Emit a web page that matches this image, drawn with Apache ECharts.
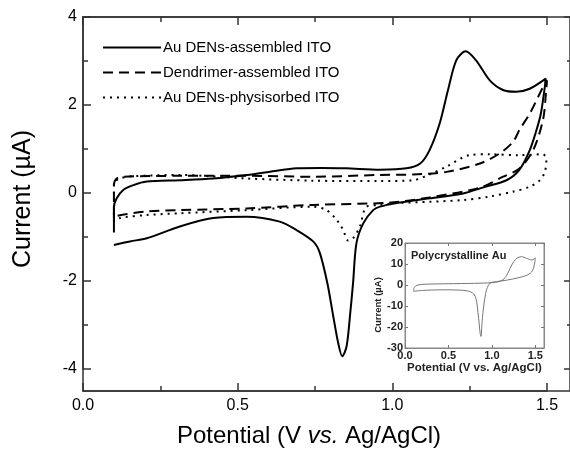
<!DOCTYPE html>
<html>
<head>
<meta charset="utf-8">
<script src="https://cdn.jsdelivr.net/npm/echarts@6/dist/echarts.min.js"></script>
<style>
  html, body { margin: 0; padding: 0; background: #fff; }
  #chart { width: 570px; height: 453px; }
</style>
</head>
<body>
<div id="chart"></div>
<script>
// series names (legend)
var seriesNames = ["Au DENs-assembled ITO", "Dendrimer-assembled ITO", "Au DENs-physisorbed ITO"];

// main CVs, [potential V, current uA]
var auDensAssembled = [
  [0.1, -0.9], [0.1, -0.31], [0.109, -0.12], [0.13, 0.07], [0.163, 0.18], [0.206, 0.26],
  [0.313, 0.29], [0.42, 0.33], [0.53, 0.41], [0.62, 0.5], [0.69, 0.56], [0.77, 0.57],
  [0.85, 0.56], [0.96, 0.53], [1.046, 0.56], [1.09, 0.67], [1.12, 0.97], [1.153, 1.58],
  [1.18, 2.34], [1.207, 3.02], [1.237, 3.22], [1.27, 3.02], [1.315, 2.56], [1.358, 2.34],
  [1.40, 2.3], [1.444, 2.37], [1.496, 2.6], [1.493, 2.41], [1.48, 1.8], [1.466, 1.43],
  [1.444, 0.97], [1.41, 0.52], [1.369, 0.29], [1.30, 0.14], [1.229, -0.01], [1.121, -0.12],
  [1.013, -0.23], [0.96, -0.31], [0.938, -0.39], [0.906, -0.69], [0.884, -1.14], [0.873, -2.05],
  [0.863, -2.8], [0.852, -3.49], [0.838, -3.71], [0.825, -3.41], [0.809, -2.8], [0.79, -2.05],
  [0.765, -1.35], [0.744, -1.1], [0.69, -0.84], [0.636, -0.65], [0.529, -0.54], [0.421, -0.57],
  [0.313, -0.76], [0.206, -1.03], [0.152, -1.1], [0.1, -1.18]
];
var dendrimerAssembled = [
  [0.1, -0.57], [0.1, 0.18], [0.109, 0.33], [0.13, 0.37], [0.313, 0.39], [0.529, 0.39],
  [0.744, 0.37], [0.96, 0.41], [1.067, 0.42], [1.175, 0.48], [1.283, 0.67], [1.347, 0.9],
  [1.39, 1.16], [1.412, 1.45], [1.444, 1.8], [1.471, 2.18], [1.493, 2.49], [1.5, 2.56],
  [1.497, 2.3], [1.487, 1.66], [1.455, 0.97], [1.41, 0.55], [1.358, 0.37], [1.283, 0.12],
  [1.12, -0.1], [0.99, -0.22], [0.744, -0.27], [0.529, -0.35], [0.313, -0.39], [0.206, -0.42],
  [0.109, -0.52], [0.1, -0.57]
];
var auDensPhysisorbed = [
  [0.1, -0.65], [0.1, 0.22], [0.12, 0.33], [0.16, 0.38], [0.313, 0.41], [0.529, 0.33],
  [0.744, 0.28], [0.96, 0.27], [1.067, 0.29], [1.12, 0.42], [1.175, 0.6], [1.25, 0.86],
  [1.315, 0.88], [1.41, 0.86], [1.487, 0.88], [1.498, 0.75], [1.493, 0.48], [1.477, 0.29],
  [1.444, 0.14], [1.39, 0.03], [1.315, -0.08], [1.229, -0.16], [1.12, -0.2], [1.013, -0.23],
  [0.96, -0.27], [0.917, -0.31], [0.895, -0.76], [0.873, -1.03], [0.857, -1.08], [0.841, -0.84],
  [0.82, -0.61], [0.787, -0.39], [0.744, -0.31], [0.529, -0.39], [0.313, -0.46], [0.206, -0.5],
  [0.12, -0.57], [0.1, -0.65]
];

// inset: polycrystalline Au
var polyAu = [
  [0.1, -3.0], [0.1, -2.0], [0.12, -0.6], [0.16, 0.1], [0.25, 0.4], [0.5, 0.6], [0.8, 0.8],
  [1.0, 1.1], [1.08, 1.6], [1.13, 2.6], [1.17, 4.5], [1.21, 8.0], [1.25, 11.0], [1.29, 12.8],
  [1.34, 13.5], [1.4, 12.7], [1.46, 11.9], [1.5, 12.8], [1.495, 11], [1.485, 9], [1.47, 7],
  [1.44, 5.5], [1.38, 4.3], [1.3, 3.4], [1.17, 2.3], [1.05, 1.6], [0.98, 0.9], [0.94, -2],
  [0.92, -6], [0.9, -12], [0.885, -19], [0.875, -24.5], [0.865, -23], [0.855, -19], [0.84, -13],
  [0.82, -7], [0.79, -4.2], [0.72, -2.8], [0.6, -2.4], [0.45, -2.3], [0.3, -2.4], [0.2, -2.6],
  [0.1, -3.0]
];

var FONT = "Liberation Sans, Arial, sans-serif";

var myChart = echarts.init(document.getElementById("chart"));

// axis with inward ticks, its line sits on the frame
function tickAxis(extra) {
  return Object.assign({
    type: "value",
    axisLine: { show: true, onZero: false, lineStyle: { color: "#333", width: 1.5 } },
    axisTick: { show: true, inside: true, length: 8, lineStyle: { color: "#333", width: 1.5 } },
    minorTick: { show: true, splitNumber: 2, length: 5, lineStyle: { color: "#333", width: 1.5 } },
    splitLine: { show: false },
    axisLabel: { show: false }
  }, extra);
}

function insetAxis(extra) {
  return Object.assign({
    type: "value",
    gridIndex: 2,
    axisLine: { show: true, onZero: false, lineStyle: { color: "#888", width: 1 } },
    axisTick: { show: true, inside: true, length: 3, lineStyle: { color: "#777", width: 1 } },
    splitLine: { show: false },
    axisLabel: { show: false }
  }, extra);
}

var mainLabel = { show: true, fontSize: 16, fontFamily: FONT, color: "#000" };
var insetLabel = { show: true, fontSize: 11, fontWeight: "bold", fontFamily: FONT, color: "#222" };
var insetName = { fontSize: 11.5, fontWeight: "bold", fontFamily: FONT, color: "#222" };

var option = {
  animation: false,
  title: {
    text: "Polycrystalline Au",
    left: 411, top: 250, padding: 0,
    textStyle: { fontSize: 11, fontWeight: "bold", fontFamily: FONT, color: "#222" }
  },
  grid: [
    // tick grid: 0..1.5 V, -4..4 uA
    { left: 83, top: 17, width: 464, height: 352 },
    // frame
    { left: 83, top: 17, width: 489, height: 374, show: true, borderColor: "#333", borderWidth: 1.5 },
    // inset
    { left: 405, top: 243, width: 139, height: 105, show: true, borderColor: "#888", borderWidth: 1, backgroundColor: "#fff" }
  ],
  xAxis: [
    tickAxis({ gridIndex: 0, min: 0, max: 1.5, interval: 0.5, position: "bottom", offset: 22,
      name: "{a|Potential (V }{b|vs.}{a| Ag/AgCl)}", nameLocation: "middle", nameGap: 33,
      nameTextStyle: {
        padding: [0, 12, 0, 0],
        rich: {
          a: { fontSize: 24, lineHeight: 24, fontFamily: FONT, color: "#000" },
          b: { fontSize: 24, lineHeight: 24, fontFamily: FONT, fontStyle: "italic", color: "#000" }
        }
      },
      axisLabel: Object.assign({}, mainLabel, { margin: 7, formatter: function (v) { return v.toFixed(1); } }) }),
    tickAxis({ gridIndex: 0, min: 0, max: 1.5, interval: 0.5, position: "top" }),
    { type: "value", gridIndex: 1, show: false, min: 0, max: 1 },
    insetAxis({ min: 0, max: 1.6, interval: 0.5, position: "bottom",
      name: "Potential (V vs. Ag/AgCl)", nameLocation: "middle", nameGap: 12, nameTextStyle: insetName,
      axisLabel: Object.assign({}, insetLabel, { margin: 2, showMaxLabel: false, formatter: function (v) { return v.toFixed(1); } }) }),
    insetAxis({ min: 0, max: 1.6, interval: 0.5, position: "top" })
  ],
  yAxis: [
    tickAxis({ gridIndex: 0, min: -4, max: 4, interval: 2, position: "left",
      name: "Current (µA)", nameLocation: "middle", nameGap: 47,
      nameTextStyle: { fontSize: 25, fontFamily: FONT, color: "#000", padding: [0, 12, 0, 0] },
      axisLabel: Object.assign({}, mainLabel, { margin: 6 }) }),
    tickAxis({ gridIndex: 0, min: -4, max: 4, interval: 2, position: "right", offset: 25 }),
    { type: "value", gridIndex: 1, show: false, min: 0, max: 1 },
    insetAxis({ min: -30, max: 20, interval: 10, position: "left",
      name: "Current (µA)", nameLocation: "middle", nameGap: 16,
      nameTextStyle: Object.assign({}, insetName, { fontSize: 9.5, padding: [0, 19, 0, 0] }),
      axisLabel: Object.assign({}, insetLabel, { margin: 2 }) }),
    insetAxis({ min: -30, max: 20, interval: 10, position: "right" })
  ],
  legend: {
    orient: "vertical",
    left: 97,
    top: 35,
    itemWidth: 58,
    itemHeight: 14,
    itemGap: 10,
    itemStyle: { opacity: 0 },
    textStyle: { fontSize: 15, fontFamily: FONT, color: "#000", padding: [0, 0, 0, -3] },
    data: seriesNames
  },
  series: [
    {
      name: seriesNames[0], type: "line", xAxisIndex: 0, yAxisIndex: 0,
      data: auDensAssembled, symbol: "none", smooth: 0.3,
      lineStyle: { color: "#000", width: 2, type: "solid" }, itemStyle: { color: "#000" }
    },
    {
      name: seriesNames[1], type: "line", xAxisIndex: 0, yAxisIndex: 0,
      data: dendrimerAssembled, symbol: "none", smooth: 0.3,
      lineStyle: { color: "#000", width: 2, type: [10, 6] }, itemStyle: { color: "#000" }
    },
    {
      name: seriesNames[2], type: "line", xAxisIndex: 0, yAxisIndex: 0,
      data: auDensPhysisorbed, symbol: "none", smooth: 0.3,
      lineStyle: { color: "#000", width: 2, type: [2, 5] }, itemStyle: { color: "#000" }
    },
    {
      name: "Polycrystalline Au", type: "line", xAxisIndex: 3, yAxisIndex: 3,
      data: polyAu, symbol: "none", smooth: 0.3, z: 10,
      lineStyle: { color: "#777", width: 1 }, itemStyle: { color: "#777" }
    }
  ]
};

myChart.setOption(option);

window.addEventListener("resize", function () {
  if (myChart != null && myChart != undefined) {
    myChart.resize();
  }
});
</script>
</body>
</html>
